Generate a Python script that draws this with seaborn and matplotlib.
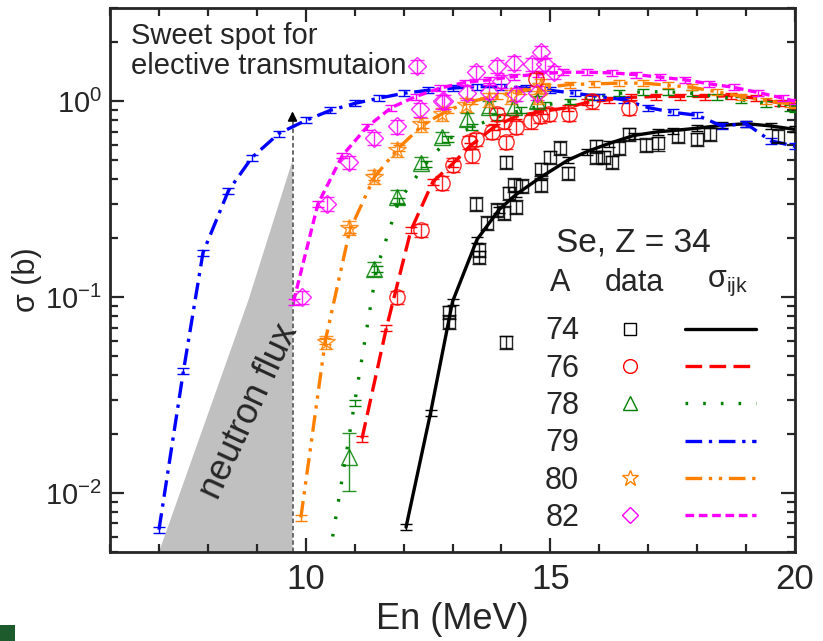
import numpy as np
import pandas as pd
import matplotlib
matplotlib.use("Agg")
import matplotlib.pyplot as plt
from matplotlib.lines import Line2D
from matplotlib.patches import Rectangle
from matplotlib.legend_handler import HandlerTuple
from matplotlib.ticker import MultipleLocator, FixedLocator
import seaborn as sns

# ---- calculated cross sections (sigma_ijk) per isotope ----
E74 = [12.05, 12.55, 13.0, 13.5, 13.95, 14.3, 14.8, 15.35, 15.75, 16.2, 16.7, 17.2, 17.5, 18.0, 18.5, 19.0, 19.5, 20.0]
S74 = [0.0067, 0.0256, 0.095, 0.197, 0.28, 0.335, 0.41, 0.50, 0.555, 0.61, 0.67, 0.70, 0.71, 0.73, 0.755, 0.77, 0.75, 0.72]

E76 = [11.15, 11.65, 12.15, 12.6, 13.0, 13.35, 13.85, 14.3, 14.85, 15.35, 15.75, 16.2, 16.65, 17.15, 17.65, 18.15, 18.7, 19.2, 19.7, 20.0]
S76 = [0.019, 0.07, 0.22, 0.39, 0.48, 0.59, 0.74, 0.84, 0.89, 0.93, 0.99, 1.02, 1.05, 1.06, 1.06, 1.06, 1.07, 1.04, 0.98, 0.96]

E78 = [10.55, 11.0, 11.45, 11.9, 12.45, 12.9, 13.4, 13.9, 14.4, 14.9, 15.4, 15.9, 16.4, 16.9, 17.4, 17.9, 18.4, 18.9, 19.4, 19.9, 20.0]
S78 = [0.006, 0.029, 0.14, 0.31, 0.48, 0.64, 0.74, 0.83, 0.90, 0.96, 1.0, 1.06, 1.10, 1.12, 1.12, 1.10, 1.06, 1.02, 0.97, 0.93, 0.92]

E79 = [7.0, 7.5, 7.9, 8.42, 8.9, 9.45, 10.0, 10.5, 11.0, 11.5, 12.0, 12.5, 13.0, 13.5, 14.0, 14.5, 15.0, 15.5, 16.0, 16.5, 17.0, 17.5, 18.0, 18.5, 19.0, 19.5, 20.0]
S79 = [0.0065, 0.042, 0.169, 0.35, 0.517, 0.686, 0.80, 0.90, 0.977, 1.04, 1.10, 1.14, 1.17, 1.19, 1.19, 1.17, 1.14, 1.10, 1.06, 1.02, 0.93, 0.88, 0.85, 0.75, 0.77, 0.63, 0.59]

E80 = [9.9, 10.4, 10.9, 11.4, 11.9, 12.4, 12.9, 13.4, 13.9, 14.4, 14.9, 15.4, 15.9, 16.4, 16.9, 17.4, 17.9, 18.4, 18.9, 19.4, 19.9, 20.0]
S80 = [0.0075, 0.06, 0.22, 0.41, 0.58, 0.76, 0.90, 1.0, 1.07, 1.13, 1.18, 1.22, 1.23, 1.24, 1.24, 1.21, 1.18, 1.12, 1.06, 1.01, 0.97, 0.96]

E82 = [9.75, 10.25, 10.75, 11.25, 11.75, 12.25, 12.75, 13.25, 13.75, 14.25, 14.75, 15.25, 15.75, 16.25, 16.75, 17.25, 17.75, 18.25, 18.75, 19.25, 19.75, 20.0]
S82 = [0.095, 0.30, 0.53, 0.74, 0.93, 1.06, 1.17, 1.25, 1.29, 1.34, 1.38, 1.41, 1.41, 1.40, 1.37, 1.33, 1.29, 1.23, 1.18, 1.11, 1.04, 1.0]

# ---- measured data ----
D74_E = [12.93, 12.93, 13.48, 13.55, 13.55, 13.7, 13.9, 14.06, 14.1, 14.1, 14.16, 14.26, 14.3, 14.43, 14.8, 14.8, 15.0, 15.2,
         15.35, 15.94, 15.94, 16.1, 16.25, 16.4, 16.6, 16.95, 17.2, 17.6, 18.0, 18.26, 19.65]
D74_S = [0.084, 0.075, 0.30, 0.16, 0.175, 0.24, 0.28, 0.27, 0.059, 0.49, 0.34, 0.376, 0.29, 0.37, 0.45, 0.376, 0.52, 0.58,
         0.43, 0.59, 0.52, 0.52, 0.49, 0.58, 0.68, 0.60, 0.61, 0.67, 0.64, 0.68, 0.67]

D76_E = [11.86, 12.36, 12.79, 13.0, 13.34, 13.4, 13.48, 13.8, 13.9, 14.06, 14.1, 14.3, 14.6, 14.71, 14.78, 14.98, 15.39, 15.86, 16.6]
D76_S = [0.10, 0.22, 0.385, 0.476, 0.62, 0.53, 0.64, 0.70, 0.86, 0.79, 0.62, 0.74, 0.79, 1.30, 0.84, 0.86, 0.86, 1.0, 0.93]

D78_E = [10.88, 11.39, 11.86, 12.36, 12.79, 13.3, 13.75, 14.26, 14.73]
D78_S = [0.0153, 0.14, 0.327, 0.487, 0.655, 0.81, 0.94, 0.94, 1.0]
D78_ERR = [0.005, 0.012, 0.025, 0.035, 0.045, 0.06, 0.07, 0.07, 0.07]

D80_E = [10.41, 10.88, 11.39, 11.86, 12.36, 12.79, 13.28, 13.75, 14.2, 14.75, 14.8]
D80_S = [0.059, 0.227, 0.413, 0.568, 0.763, 0.86, 0.96, 1.02, 1.06, 1.05, 1.2]

D82_E = [9.92, 10.43, 10.88, 11.39, 11.86, 12.34, 12.79, 12.27, 12.83, 13.3, 13.48, 13.75, 13.9, 14.0, 14.26, 14.3,
         14.63, 14.73, 14.8, 14.88, 15.08]
D82_S = [0.10, 0.30, 0.49, 0.65, 0.745, 0.91, 1.0, 1.51, 1.0, 1.11, 1.41, 1.12, 1.51, 1.27, 1.58, 1.09,
         1.55, 1.11, 1.78, 1.55, 1.41]

# neutron flux shading
FLUX_E = [7.0, 8.83, 9.73, 9.73]
FLUX_S = [0.005, 0.097, 0.5, 0.005]
SWEET_E = 9.73

sns.set_style("ticks")
plt.rcParams["font.family"] = ["Liberation Sans", "DejaVu Sans"]
plt.rcParams["mathtext.default"] = "regular"

fig = plt.figure(figsize=(8.23, 6.41), dpi=100)
ax = fig.add_axes([0.1337, 0.1388, 0.8323, 0.8487])
fig.patches.append(Rectangle((0, 0), 15 / 823, 16 / 641, transform=fig.transFigure,
                             color="#1d5a2c", lw=0))

ax.fill(FLUX_E, FLUX_S, color="#c0c0c0", lw=0, zorder=0)
ax.plot([SWEET_E, SWEET_E], [0.005, 0.82], color="#606060", lw=1.3, ls=(0, (2.5, 1.5)), zorder=1)
ax.annotate("", xy=(SWEET_E, 0.92), xytext=(SWEET_E, 0.80),
            arrowprops=dict(arrowstyle="-|>", color="black", lw=1.2, mutation_scale=14))

series = [
    ("74", E74, S74, "black", "-", "s", D74_E, D74_S, None),
    ("76", E76, S76, "#ff0000", (0, (5, 2.2)), "o", D76_E, D76_S, None),
    ("78", E78, S78, "#008000", (0, (0.8, 4.5)), "^", D78_E, D78_S, D78_ERR),
    ("79", E79, S79, "#0000ff", (0, (5, 2, 1, 2)), None, None, None, None),
    ("80", E80, S80, "#ff8000", (0, (5, 2, 1, 2, 1, 2)), "*", D80_E, D80_S, None),
    ("82", E82, S82, "#ff00ff", (0, (2.6, 1.4)), "D", D82_E, D82_S, None),
]

handles = []
for name, e, s, c, ls, mk, de, ds, derr in series:
    df = pd.DataFrame({"E": e, "S": s})
    sns.lineplot(data=df, x="E", y="S", ax=ax, color=c, lw=2.4, linestyle=ls, sort=False, zorder=3)
    s = np.array(s)
    # the green curve's lowest point has no error bar in the original
    k = 1 if name == "78" else 0
    ax.errorbar(e[k:], s[k:], yerr=0.035 * s[k:], fmt="none", ecolor=c, elinewidth=1.0,
                capsize=4, capthick=1.0, zorder=3)
    msize = {"s": 9, "o": 11, "^": 11, "*": 13, "D": 9}.get(mk, 0)
    if mk is not None:
        ds = np.array(ds)
        err = 0.08 * ds if derr is None else np.array(derr)
        ax.errorbar(de, ds, yerr=err, fmt=mk, ms=msize, mfc="none", mec=c, mew=1.0,
                    ecolor=c, elinewidth=1.0, capsize=5, capthick=1.0, alpha=0.85, zorder=4)
    mh = Line2D([], [], marker=mk if mk else None, ls="none", ms=msize * 0.9, mfc="none", mec=c, mew=1.0)
    lh = Line2D([], [], color=c, lw=2.4, ls=ls)
    handles.append((mh, lh))

ax.set_yscale("log")
ax.set_xlim(6, 20)
ax.set_ylim(0.005, 3.0)
ax.xaxis.set_major_locator(FixedLocator([10, 15, 20]))
ax.xaxis.set_minor_locator(MultipleLocator(1))
ax.tick_params(which="both", direction="in", top=True, right=True, width=1.6)
ax.tick_params(which="major", length=10)
ax.tick_params(which="minor", length=6)
ax.tick_params(axis="y", which="major", labelsize=21, pad=6)
for lab in ax.get_xticklabels():
    lab.set_fontfamily(["Liberation Sans Narrow", "Liberation Sans"])
    lab.set_fontsize(25)
ax.tick_params(axis="x", which="major", pad=8)
for sp in ax.spines.values():
    sp.set_linewidth(2.0)

ax.set_xlabel("En (MeV)", fontsize=26, family=["Liberation Sans Narrow", "Liberation Sans"], labelpad=4)
ax.set_ylabel("σ (b)", fontsize=22, labelpad=2)

ax.text(0.03, 0.975, "Sweet spot for\nelective transmutaion", transform=ax.transAxes,
        fontsize=21, va="top", ha="left", linespacing=1.1)
ax.text(8.85, 0.026, "neutron flux", fontsize=26, rotation=65, ha="center", va="center")

ax.text(0.651, 0.568, "Se, Z = 34", transform=ax.transAxes, fontsize=24, va="center", ha="left")
ax.text(0.642, 0.494, "A", transform=ax.transAxes, fontsize=22, va="center", ha="left")
ax.text(0.722, 0.494, "data", transform=ax.transAxes, fontsize=22, va="center", ha="left")
ax.text(0.871, 0.494, "σ$_{ijk}$", transform=ax.transAxes, fontsize=22, va="center", ha="left")

leg = ax.legend(handles, [h for h, *_ in series], loc="upper left", bbox_to_anchor=(0.635, 0.433),
                frameon=False, fontsize=22, markerfirst=False, handlelength=5.3, handletextpad=0.5,
                labelspacing=0.24, borderpad=0, borderaxespad=0,
                handler_map={tuple: HandlerTuple(ndivide=None, pad=0.6)})

fig.savefig("out.png", dpi=100)
